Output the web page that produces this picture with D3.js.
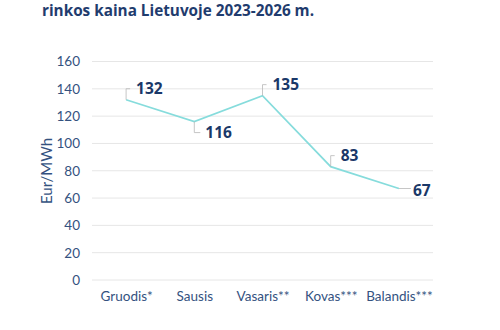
<!DOCTYPE html>
<html><head><meta charset="utf-8">
<script src="https://cdn.jsdelivr.net/npm/d3@7"></script>
<style>body{margin:0;background:#fff}svg{display:block}</style>
</head><body>
<svg id="c" width="500" height="330"></svg>
<script>
const categories = ["Gruodis*", "Sausis", "Vasaris**", "Kovas***", "Balandis***"];
const values = [132, 116, 135, 83, 67];
const yTicks = [0, 20, 40, 60, 80, 100, 120, 140, 160];
const title = "rinkos kaina Lietuvoje 2023-2026 m.";
const yTitle = "Eur/MWh";
// label placement: direction of leader (up/down/right)
const labelPos = ["up", "down", "up", "up", "right"];

const svg = d3.select("#c");
const font = "Lato, 'Open Sans', sans-serif";
const x = d3.scalePoint().domain(categories).range([92, 433]).padding(0.5);
const y = d3.scaleLinear().domain([0, 160]).range([280, 61.5]);

svg.append("text").attr("x", 42).attr("y", 16).text(title)
  .attr("font-family", "'Open Sans', sans-serif").attr("font-weight", 700)
  .attr("font-size", 15.3).attr("fill", "#1f3c6e");

// gridlines
svg.append("g").selectAll("line").data(yTicks).join("line")
  .attr("x1", 92).attr("x2", 433)
  .attr("y1", d => y(d)).attr("y2", d => y(d))
  .attr("stroke", "#e6e6e6").attr("stroke-width", 1);

// y axis labels
const yAxis = svg.append("g").attr("transform", "translate(80,0)")
  .call(d3.axisLeft(y).tickValues(yTicks).tickSize(0).tickPadding(0));
yAxis.select(".domain").remove();
yAxis.selectAll("text").attr("font-family", font).attr("font-size", 13.5).attr("fill", "#34527f");

// x axis labels
const xAxis = svg.append("g").attr("transform", "translate(0,290)")
  .call(d3.axisBottom(x).tickSize(0).tickPadding(0));
xAxis.select(".domain").remove();
xAxis.selectAll("text").attr("font-family", font).attr("font-size", 13.5).attr("fill", "#34527f").attr("dy", "0.85em");

svg.append("text").attr("transform", "translate(52,171) rotate(-90)")
  .attr("text-anchor", "middle").text(yTitle)
  .attr("font-family", font).attr("font-size", 15).attr("fill", "#34527f");

// line
svg.append("path").datum(values)
  .attr("d", d3.line().x((d, i) => x(categories[i])).y(d => y(d)))
  .attr("fill", "none").attr("stroke", "#86dcdc").attr("stroke-width", 1.7);

// labels with leaders
const g = svg.append("g");
values.forEach((v, i) => {
  const px = x(categories[i]), py = y(v);
  let pts, tx, ty;
  if (labelPos[i] === "up") {
    pts = [[px, py], [px, py - 11], [px + 4, py - 11]];
    tx = px + 10; ty = py - 5.5;
  } else if (labelPos[i] === "down") {
    pts = [[px, py], [px, py + 11], [px + 6, py + 11]];
    tx = px + 11; ty = py + 16.5;
  } else {
    pts = [[px, py], [px + 12, py]];
    tx = px + 14; ty = py + 7.5;
  }
  g.append("path").attr("d", d3.line()(pts)).attr("fill", "none")
    .attr("stroke", "#b8b8b8").attr("stroke-width", 0.8);
  g.append("text").attr("x", tx).attr("y", ty).text(v)
    .attr("font-family", "'Open Sans', sans-serif").attr("font-weight", 700)
    .attr("font-size", 15.5).attr("fill", "#1a3868");
});
</script>
</body></html>
